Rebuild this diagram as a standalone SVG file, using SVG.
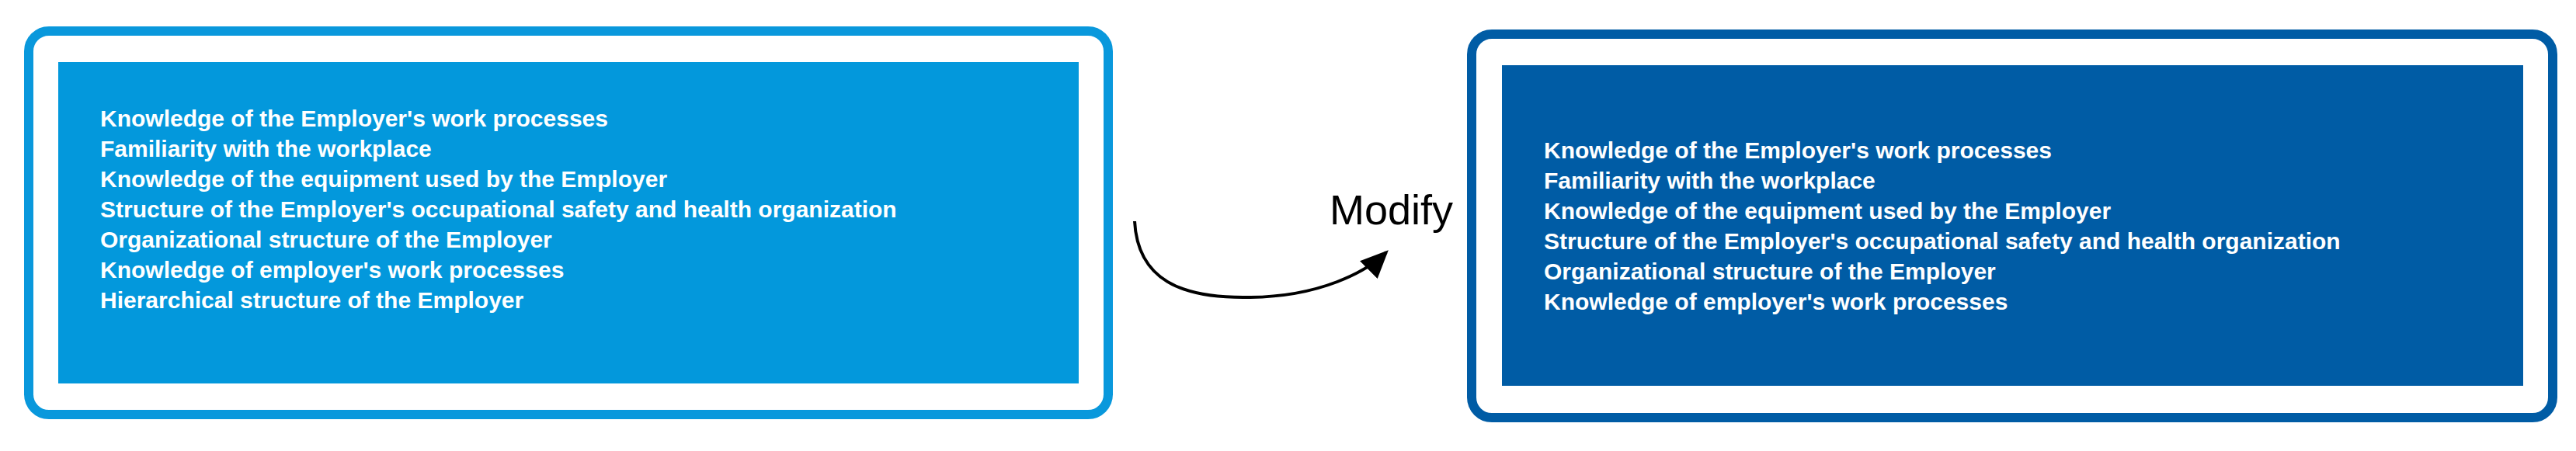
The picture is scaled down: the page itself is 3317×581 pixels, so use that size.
<svg xmlns="http://www.w3.org/2000/svg" width="3317" height="581" viewBox="0 0 3317 581">
<style>
.t{font-family:"Liberation Sans",Arial,sans-serif;font-weight:bold;font-size:30px;fill:#fff}
.m{font-family:"Liberation Sans",Arial,sans-serif;font-size:54px;fill:#000}
</style>
<defs><marker id="ah" markerWidth="10" markerHeight="10" refX="8" refY="5" orient="auto" markerUnits="strokeWidth"><path d="M0,1 L9,5 L0,9 z" fill="#000"/></marker></defs>
<g id="before">
<rect x="37" y="40" width="1390" height="494" rx="26" fill="#fff" stroke="#0998dc" stroke-width="12"/>
<rect x="75" y="80" width="1314" height="414" fill="#0398dc"/>
<text class="t" x="129" y="163">Knowledge of the Employer's work processes</text>
<text class="t" x="129" y="202">Familiarity with the workplace</text>
<text class="t" x="129" y="241">Knowledge of the equipment used by the Employer</text>
<text class="t" x="129" y="280">Structure of the Employer's occupational safety and health organization</text>
<text class="t" x="129" y="319">Organizational structure of the Employer</text>
<text class="t" x="129" y="358">Knowledge of employer's work processes</text>
<text class="t" x="129" y="397">Hierarchical structure of the Employer</text>
</g>
<g id="connectors">
<path d="M1461,285 C1465,360 1520,385 1610,383 C1700,382 1760,350 1785,325" fill="none" stroke="#000" stroke-width="4" marker-end="url(#ah)"/>
<text class="m" x="1712" y="289">Modify</text>
</g>
<g id="after">
<rect x="1895" y="44" width="1392" height="494" rx="26" fill="#fff" stroke="#005ca5" stroke-width="12"/>
<rect x="1934" y="84" width="1315" height="413" fill="#005ca5"/>
<text class="t" x="1988" y="204">Knowledge of the Employer's work processes</text>
<text class="t" x="1988" y="243">Familiarity with the workplace</text>
<text class="t" x="1988" y="282">Knowledge of the equipment used by the Employer</text>
<text class="t" x="1988" y="321">Structure of the Employer's occupational safety and health organization</text>
<text class="t" x="1988" y="360">Organizational structure of the Employer</text>
<text class="t" x="1988" y="399">Knowledge of employer's work processes</text>
</g>
</svg>
